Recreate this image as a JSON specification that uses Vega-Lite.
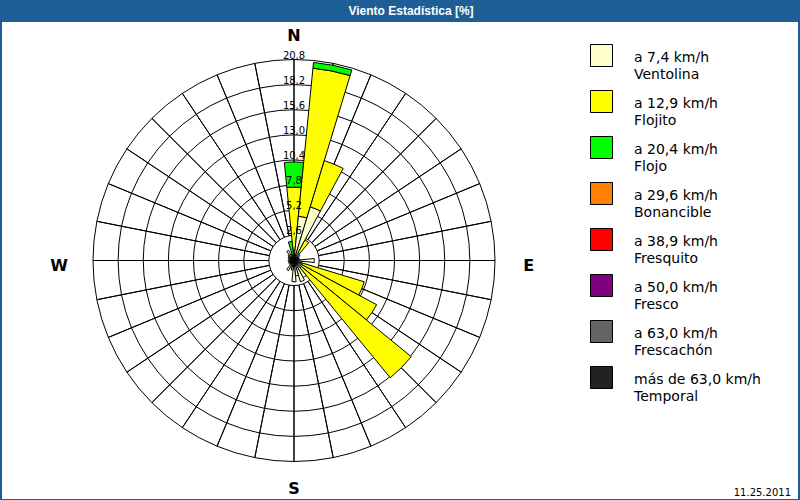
{
  "$schema": "https://vega.github.io/schema/vega-lite/v6.json",
  "background": "#1E5E96",
  "padding": {"left": 2, "right": 2, "top": 5, "bottom": 2},
  "title": {"text": "Viento Estadística [%]", "color": "white", "font": "Liberation Sans", "fontSize": 12, "fontWeight": "bold", "anchor": "middle", "offset": 4, "dx": 11, "baseline": "top"},
  "spacing": 0,
  "bounds": "flush",
  "config": {"view": {"stroke": null, "fill": "white"}},
  "datasets": {
    "wind": [
      {"dir": 0, "Ventolina": 1.0, "Flojito": 6.6, "Flojo": 2.6},
      {"dir": 11.25, "Ventolina": 4.6, "Flojito": 15.4, "Flojo": 0.6},
      {"dir": 22.5, "Ventolina": 5.8, "Flojito": 5.0},
      {"dir": 33.75, "Ventolina": 0.9, "Flojito": 1.5},
      {"dir": 45, "Ventolina": 0.8},
      {"dir": 56.25, "Ventolina": 0.6},
      {"dir": 67.5, "Ventolina": 0.5},
      {"dir": 78.75, "Ventolina": 0.6},
      {"dir": 90, "Ventolina": 2.1},
      {"dir": 101.25, "Ventolina": 0.8},
      {"dir": 112.5, "Ventolina": 0.9, "Flojito": 6.7},
      {"dir": 123.75, "Ventolina": 0.9, "Flojito": 8.8},
      {"dir": 135, "Ventolina": 1.0, "Flojito": 14.7},
      {"dir": 146.25, "Ventolina": 2.0},
      {"dir": 157.5, "Ventolina": 2.3},
      {"dir": 168.75, "Ventolina": 1.6},
      {"dir": 180, "Ventolina": 2.2},
      {"dir": 191.25, "Ventolina": 1.0},
      {"dir": 202.5, "Ventolina": 0.8},
      {"dir": 213.75, "Ventolina": 1.2},
      {"dir": 225, "Ventolina": 0.6},
      {"dir": 236.25, "Ventolina": 0.5},
      {"dir": 247.5, "Ventolina": 0.6},
      {"dir": 258.75, "Ventolina": 0.5},
      {"dir": 270, "Ventolina": 0.6},
      {"dir": 281.25, "Ventolina": 0.5},
      {"dir": 292.5, "Ventolina": 0.6},
      {"dir": 303.75, "Ventolina": 0.7},
      {"dir": 315, "Ventolina": 0.8},
      {"dir": 326.25, "Ventolina": 1.2},
      {"dir": 337.5, "Ventolina": 0.7},
      {"dir": 348.75, "Ventolina": 0.2, "Flojito": 0.2, "Flojo": 1.6}
    ],
    "rings": [
      {"r": 2.6, "lbl": "2,6"},
      {"r": 5.2, "lbl": "5,2"},
      {"r": 7.8, "lbl": "7,8"},
      {"r": 10.4, "lbl": "10,4"},
      {"r": 13.0, "lbl": "13,0"},
      {"r": 15.6, "lbl": "15,6"},
      {"r": 18.2, "lbl": "18,2"},
      {"r": 20.8, "lbl": "20,8"}
    ],
    "compass": [
      {"lbl": "N", "dir": 0, "axis": "ns"},
      {"lbl": "E", "dir": 90, "axis": "ew"},
      {"lbl": "S", "dir": 180, "axis": "ns"},
      {"lbl": "W", "dir": 270, "axis": "ew"}
    ]
  },
  "hconcat": [
    {
      "width": 584,
      "height": 477,
      "view": {"fill": "white", "stroke": null},
      "layer": [
        {
          "data": {"name": "rings"},
          "mark": {"type": "arc", "filled": false, "stroke": "black", "strokeWidth": 1},
          "encoding": {
            "theta": {"value": 0},
            "theta2": {"value": 6.283185307179586},
            "radius": {"field": "r", "type": "quantitative", "stack": null, "scale": {"type": "linear", "domain": [0, 20.8], "range": [0, 201], "zero": true, "nice": false}}
          }
        },
        {
          "data": {"name": "wind"},
          "mark": {"type": "arc", "filled": false, "stroke": "black", "strokeWidth": 1},
          "encoding": {
            "theta": {"field": "dir", "type": "quantitative", "stack": null, "scale": {"type": "linear", "domain": [0, 360], "range": [0, 6.283185307179586], "zero": false, "nice": false}},
            "theta2": {"field": "dir"},
            "radius": {"datum": 20.8, "type": "quantitative", "stack": null},
            "radius2": {"datum": 2.6}
          }
        },
        {
          "data": {"name": "wind"},
          "transform": [
            {"fold": ["Ventolina", "Flojito", "Flojo"], "as": ["cat", "pct"]},
            {"filter": "datum.pct > 0"},
            {"stack": "pct", "groupby": ["dir"], "as": ["r0", "r1"]},
            {"bin": {"extent": [-5.625, 354.375], "step": 11.25, "nice": false, "anchor": -5.625}, "field": "dir", "as": ["a0", "a1"]}
          ],
          "mark": {"type": "arc", "stroke": "black", "strokeWidth": 1},
          "encoding": {
            "theta": {"field": "a0", "type": "quantitative", "stack": null},
            "theta2": {"field": "a1"},
            "radius": {"field": "r1", "type": "quantitative", "stack": null},
            "radius2": {"field": "r0"},
            "color": {
              "field": "cat",
              "type": "nominal",
              "scale": {
                "domain": ["Ventolina", "Flojito", "Flojo", "Bonancible", "Fresquito", "Fresco", "Frescachón", "Temporal"],
                "range": ["#FFFFCC", "#FFFF00", "#00FF00", "#FF8000", "#FF0000", "#800080", "#646464", "#222222"]
              },
              "legend": {
                "orient": "none",
                "legendX": 588,
                "legendY": 17,
                "title": null,
                "padding": 0,
                "symbolType": "M-1,-0.545H1V1.455H-1Z",
                "symbolSize": 484,
                "symbolStrokeColor": "black",
                "symbolStrokeWidth": 1,
                "symbolOpacity": 1,
                "labelFont": "DejaVu Sans",
                "labelFontSize": 14,
                "labelColor": "black",
                "labelOffset": 21,
                "labelLimit": 300,
                "labelBaseline": "top",
                "rowPadding": 3,
                "labelExpr": "{'Ventolina': ['a 7,4 km/h', 'Ventolina'], 'Flojito': ['a 12,9 km/h', 'Flojito'], 'Flojo': ['a 20,4 km/h', 'Flojo'], 'Bonancible': ['a 29,6 km/h', 'Bonancible'], 'Fresquito': ['a 38,9 km/h', 'Fresquito'], 'Fresco': ['a 50,0 km/h', 'Fresco'], 'Frescachón': ['a 63,0 km/h', 'Frescachón'], 'Temporal': ['más de 63,0 km/h', 'Temporal']}[datum.label]",
                "encode": {"labels": {"update": {"lineHeight": {"value": 17}}}}
              }
            }
          }
        },
        {
          "data": {"name": "rings"},
          "mark": {"type": "text", "font": "DejaVu Sans", "fontSize": 10, "color": "black", "align": "center", "baseline": "alphabetic", "dy": -1},
          "encoding": {
            "theta": {"value": 0},
            "radius": {"field": "r", "type": "quantitative", "stack": null},
            "text": {"field": "lbl"}
          }
        },
        {
          "data": {"name": "compass"},
          "transform": [{"filter": "datum.axis == 'ns'"}],
          "mark": {"type": "text", "font": "DejaVu Sans", "fontSize": 16, "fontWeight": "bold", "color": "black", "align": "center", "baseline": "middle", "dy": 2},
          "encoding": {
            "theta": {"field": "dir", "type": "quantitative", "stack": null},
            "radius": {"datum": 23.4, "type": "quantitative", "stack": null},
            "text": {"field": "lbl"}
          }
        },
        {
          "data": {"name": "compass"},
          "transform": [{"filter": "datum.axis == 'ew'"}],
          "mark": {"type": "text", "font": "DejaVu Sans", "fontSize": 16, "fontWeight": "bold", "color": "black", "align": "center", "baseline": "middle", "dy": 5},
          "encoding": {
            "theta": {"field": "dir", "type": "quantitative", "stack": null},
            "radius": {"datum": 24.3, "type": "quantitative", "stack": null},
            "text": {"field": "lbl"}
          }
        }
      ]
    },
    {
      "width": 212,
      "height": 477,
      "data": {"values": [{"fecha": "11.25.2011"}]},
      "mark": {"type": "text", "align": "right", "baseline": "alphabetic", "font": "DejaVu Sans", "fontSize": 10, "color": "black", "dx": -7, "dy": -3},
      "encoding": {
        "text": {"field": "fecha"},
        "x": {"value": "width"},
        "y": {"value": "height"}
      }
    }
  ]
}
